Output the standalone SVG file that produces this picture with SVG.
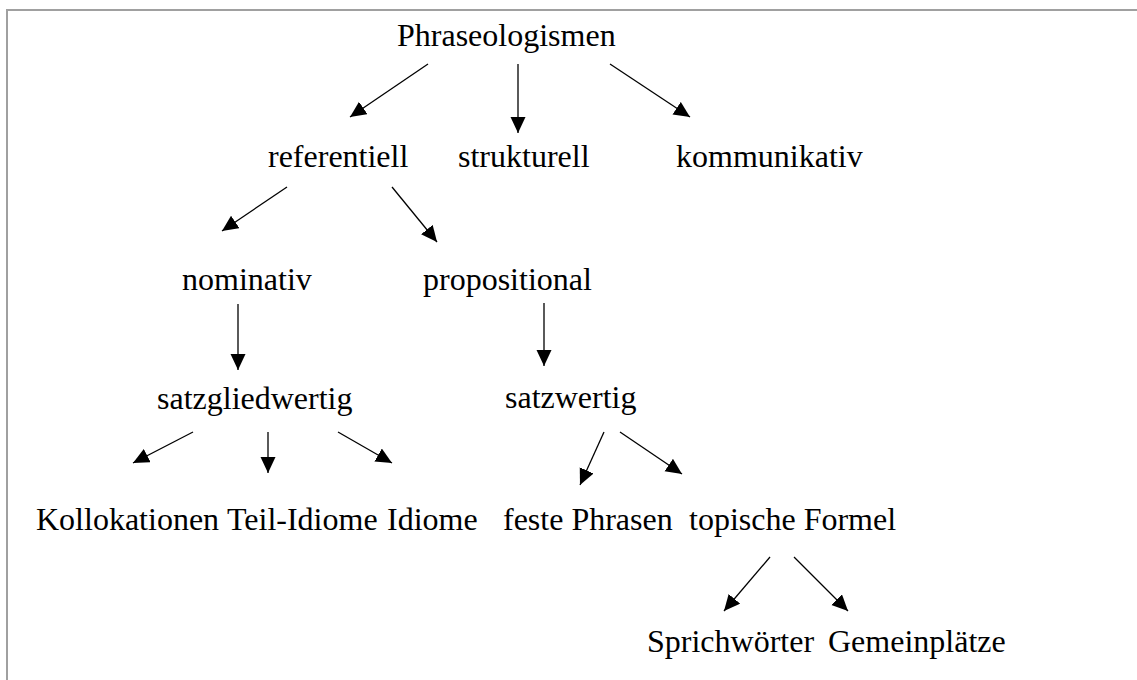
<svg xmlns="http://www.w3.org/2000/svg" width="1137" height="680" viewBox="0 0 1137 680">
<style>
text{font-family:"Liberation Serif","Times New Roman",serif;font-size:32px;fill:#000}
.c line{stroke:#000;stroke-width:1.3;marker-end:url(#ah)}
.frame{stroke:#a0a0a0;stroke-width:2;fill:none}
</style>
<defs>
<marker id="ah" markerUnits="userSpaceOnUse" markerWidth="18" markerHeight="16" refX="16" refY="7.5" orient="auto" viewBox="0 0 18 16">
<path d="M0,0 L16,7.5 L0,15 z" fill="#000"/>
</marker>
</defs>
<rect width="1137" height="680" fill="#fff"/>
<path class="frame" d="M7,680 V10 H1137"/>
<g id="n-phraseologismen"><text x="397" y="46">Phraseologismen</text></g>
<g id="n-referentiell"><text x="268" y="167">referentiell</text></g>
<g id="n-strukturell"><text x="458" y="167">strukturell</text></g>
<g id="n-kommunikativ"><text x="676" y="167">kommunikativ</text></g>
<g id="n-nominativ"><text x="182" y="290">nominativ</text></g>
<g id="n-propositional"><text x="423" y="290">propositional</text></g>
<g id="n-satzgliedwertig"><text x="157" y="409">satzgliedwertig</text></g>
<g id="n-satzwertig"><text x="505" y="408">satzwertig</text></g>
<g id="n-kollokationen"><text x="36" y="530">Kollokationen</text></g>
<g id="n-teil-idiome"><text x="227" y="530">Teil-Idiome</text></g>
<g id="n-idiome"><text x="387" y="530">Idiome</text></g>
<g id="n-feste-phrasen"><text x="503" y="530">feste Phrasen</text></g>
<g id="n-topische-formel"><text x="689" y="530">topische Formel</text></g>
<g id="n-sprichwoerter"><text x="647" y="652">Sprichwörter</text></g>
<g id="n-gemeinplaetze"><text x="828" y="652">Gemeinplätze</text></g>
<g class="c" id="connectors">
<line x1="428" y1="64" x2="350" y2="117"/>
<line x1="518" y1="64" x2="518" y2="133"/>
<line x1="610" y1="64" x2="690" y2="117"/>
<line x1="287" y1="187" x2="222" y2="231"/>
<line x1="392" y1="187" x2="437" y2="242"/>
<line x1="238" y1="304" x2="238" y2="370"/>
<line x1="544" y1="303" x2="544" y2="366"/>
<line x1="193" y1="432" x2="133" y2="463"/>
<line x1="268" y1="432" x2="268" y2="473"/>
<line x1="338" y1="432" x2="392" y2="463"/>
<line x1="604" y1="432" x2="580" y2="485"/>
<line x1="620" y1="432" x2="682" y2="474"/>
<line x1="770" y1="557" x2="724" y2="611"/>
<line x1="794" y1="557" x2="848" y2="611"/>
</g>
</svg>
